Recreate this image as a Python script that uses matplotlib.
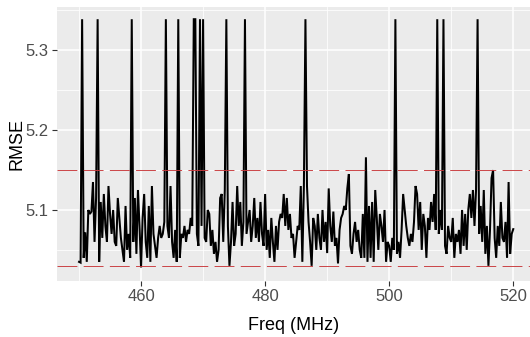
import numpy as np
import matplotlib
matplotlib.use("Agg")
import matplotlib.pyplot as plt
from matplotlib.ticker import MultipleLocator

# frequency grid (MHz), 0.25 MHz steps from 450 to 520
freq_start = 450.0
freq_step = 0.25

SPIKE = 5.339

# RMSE per frequency step
rmse = [
    5.035, 5.034, SPIKE, 5.040, 5.072, 5.035, 5.100, 5.095, 5.098, 5.135,
    5.060, 5.115, SPIKE, 5.035, 5.110, 5.065, 5.120, 5.080, 5.060, 5.130,
    5.095, 5.070, 5.100, 5.060, 5.055, 5.115, 5.090, 5.065, 5.050, 5.035,
    5.105, 5.050, 5.070, 5.040, SPIKE, 5.060, 5.115, 5.045, 5.125, 5.080,
    5.028, 5.090, 5.120, 5.060, 5.040, 5.105, 5.035, 5.130, 5.070, 5.055,
    5.040, 5.065, 5.080, 5.065, 5.070, 5.085, SPIKE, 5.080, 5.065, 5.130,
    5.060, 5.040, 5.075, 5.035, SPIKE, 5.040, 5.070, 5.065, 5.080, 5.060,
    5.075, 5.070, 5.090, 5.080, SPIKE, SPIKE, 5.070, 5.055, SPIKE, 5.080,
    SPIKE, 5.065, 5.060, 5.100, 5.095, 5.055, 5.075, 5.045, 5.060, 5.035,
    5.050, 5.115, 5.120, 5.060, 5.125, SPIKE, 5.080, 5.030, 5.060, 5.110,
    5.055, 5.070, 5.130, 5.080, 5.110, 5.055, 5.085, SPIKE, 5.070, 5.085,
    5.100, 5.060, 5.080, 5.115, 5.065, 5.090, 5.060, 5.110, 5.070, 5.055,
    5.120, 5.050, 5.075, 5.040, 5.090, 5.060, 5.035, 5.080, 5.050, 5.085,
    5.095, 5.090, 5.120, 5.080, 5.115, 5.075, 5.095, 5.065, 5.070, 5.040,
    5.060, 5.080, 5.075, 5.130, 5.035, 5.130, SPIKE, 5.130, 5.085, 5.060,
    5.030, 5.090, 5.080, 5.050, 5.095, 5.065, 5.050, 5.100, 5.060, 5.085,
    5.046, 5.127, 5.080, 5.060, 5.098, 5.055, 5.065, 5.033, 5.075, 5.090,
    5.095, 5.105, 5.100, 5.127, 5.145, 5.055, 5.045, 5.070, 5.085, 5.060,
    5.075, 5.050, 5.040, 5.095, 5.040, 5.166, 5.035, 5.105, 5.040, 5.110,
    5.035, 5.125, 5.090, 5.050, 5.095, 5.080, 5.060, 5.100, 5.035, 5.060,
    5.055, 5.035, 5.065, 5.050, SPIKE, 5.045, 5.060, 5.040, 5.075, 5.120,
    5.100, 5.080, 5.065, 5.055, 5.070, 5.060, 5.085, 5.130, 5.120, 5.075,
    5.110, 5.050, 5.095, 5.080, 5.040, 5.090, 5.075, 5.110, 5.085, 5.120,
    5.075, SPIKE, 5.070, 5.100, 5.075, SPIKE, 5.055, 5.045, 5.080, 5.065,
    5.060, 5.090, 5.040, 5.070, 5.060, 5.075, 5.045, 5.100, 5.055, 5.095,
    5.050, 5.100, 5.120, 5.090, 5.125, 5.080, 5.125, SPIKE, 5.070, 5.105,
    5.060, 5.125, 5.045, 5.080, 5.030, 5.075, 5.140, 5.150, 5.065, 5.040,
    5.080, 5.055, 5.110, 5.065, 5.060, 5.085, 5.040, 5.135, 5.045, 5.070,
    5.076,
]
freq = freq_start + freq_step * np.arange(len(rmse))

# horizontal reference lines
thresholds = [5.15, 5.03]

plt.rcParams['font.family'] = ['Liberation Sans', 'DejaVu Sans']

fig = plt.figure(figsize=(5.30, 3.37), dpi=100)
ax = fig.add_axes([57 / 530, 56 / 337, 473 / 530, 274 / 337])
ax.set_facecolor('#EBEBEB')

ax.set_xlim(446.45, 522.7)
ax.set_ylim(5.011, 5.3543)

ax.xaxis.set_major_locator(MultipleLocator(20))
ax.xaxis.set_minor_locator(MultipleLocator(10))
ax.yaxis.set_major_locator(MultipleLocator(0.1))
ax.yaxis.set_minor_locator(MultipleLocator(0.05))
ax.yaxis.set_major_formatter(matplotlib.ticker.FormatStrFormatter('%.1f'))

ax.grid(which='major', color='white', linewidth=1.1)
ax.grid(which='minor', color='white', linewidth=0.55)
ax.set_axisbelow(True)
for s in ax.spines.values():
    s.set_visible(False)

ax.tick_params(which='major', length=3.5, width=0.8, color='#333333',
               labelcolor='#4D4D4D', labelsize=12, pad=2.5)
ax.tick_params(which='minor', length=0)

ax.plot(freq, rmse, color='black', linewidth=1.45, solid_joinstyle='miter')
for t in thresholds:
    ax.axhline(t, color='#C8383B', linewidth=0.65, dashes=(22, 7))

ax.set_xlabel('Freq (MHz)', fontsize=13, color='black', labelpad=9)
ax.set_ylabel('RMSE', fontsize=13, color='black', labelpad=0)

fig.savefig('out.png', dpi=100)
